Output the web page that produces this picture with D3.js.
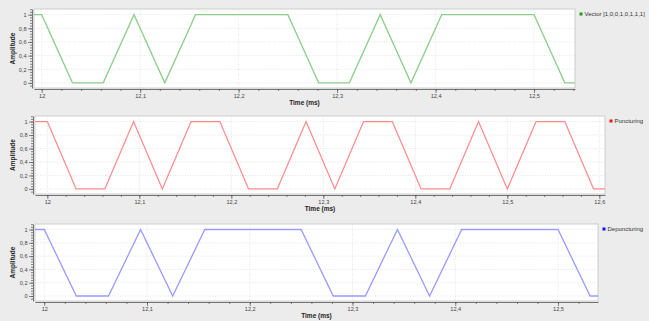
<!DOCTYPE html>
<html lang="en">
<head>
<meta charset="utf-8">
<title>Puncturing / Depuncturing</title>
<script src="https://d3js.org/d3.v7.min.js"></script>
<style>
  html, body { margin: 0; padding: 0; background: #ececec; }
  svg { display: block; font-family: "Liberation Sans", Arial, sans-serif; }
</style>
</head>
<body>
<svg id="chart" width="649" height="321"></svg>
<script>
// sample times (ms), one sample every 1/32 ms
var vectorTimes = [11.96875, 12, 12.03125, 12.0625, 12.09375, 12.125, 12.15625, 12.1875, 12.21875,
  12.25, 12.28125, 12.3125, 12.34375, 12.375, 12.40625, 12.4375, 12.46875, 12.5, 12.53125, 12.5625];
var vectorValues = [1, 1, 0, 0, 1, 0, 1, 1, 1, 1, 0, 0, 1, 0, 1, 1, 1, 1, 0, 0];

var puncTimes = [11.96875, 12, 12.03125, 12.0625, 12.09375, 12.125, 12.15625, 12.1875, 12.21875,
  12.25, 12.28125, 12.3125, 12.34375, 12.375, 12.40625, 12.4375, 12.46875, 12.5, 12.53125, 12.5625,
  12.59375, 12.625];
var puncValues = [1, 1, 0, 0, 1, 0, 1, 1, 0, 0, 1, 0, 1, 1, 0, 0, 1, 0, 1, 1, 0, 0];

var depuncTimes = vectorTimes;
var depuncValues = [1, 1, 0, 0, 1, 0, 1, 1, 1, 1, 0, 0, 1, 0, 1, 1, 1, 1, 0, 0];

var yTicks = [0, 0.2, 0.4, 0.6, 0.8, 1];
var yTickLabels = ["0", "0,2", "0,4", "0,6", "0,8", "1"];
var xTicksShort = [12, 12.1, 12.2, 12.3, 12.4, 12.5];
var xTicksLong = [12, 12.1, 12.2, 12.3, 12.4, 12.5, 12.6];

var legendNames = ["Vector [1,0,0,1,0,1,1,1]", "Puncturing", "Depuncturing"];

// layout of the three Qwt-like plots
var panels = [
  { t: vectorTimes, v: vectorValues, ticks: xTicksShort, name: legendNames[0],
    x0: 34, x1: 575, y0: 9, y1: 88, dom: [11.9922, 12.5416],
    line: "#8ccf8c", mark: "#1f9a1f" },
  { t: puncTimes, v: puncValues, ticks: xTicksLong, name: legendNames[1],
    x0: 35, x1: 605, y0: 116, y1: 194, dom: [11.9866, 12.6062],
    line: "#ff8c8c", mark: "#ff1010" },
  { t: depuncTimes, v: depuncValues, ticks: xTicksShort, name: legendNames[2],
    x0: 35, x1: 598, y0: 224, y1: 301, dom: [11.9910, 12.5389],
    line: "#9a9aff", mark: "#1010ff" }
];

var svg = d3.select("#chart");
var fmt = function(d) { return String(+d.toFixed(2)).replace(".", ","); };

panels.forEach(function(p, i) {
  var x = d3.scaleLinear().domain(p.dom).range([p.x0, p.x1]);
  var y = d3.scaleLinear().domain([-0.075, 1.083]).range([p.y1, p.y0]);
  var g = svg.append("g");

  // canvas
  g.append("rect")
    .attr("x", p.x0).attr("y", p.y0)
    .attr("width", p.x1 - p.x0).attr("height", p.y1 - p.y0)
    .attr("fill", "#fff").attr("stroke", "#c4c4c4").attr("stroke-width", 0.8);

  // grid
  g.selectAll(".gx").data(p.ticks).enter().append("line")
    .attr("x1", function(d) { return x(d); }).attr("x2", function(d) { return x(d); })
    .attr("y1", p.y0).attr("y2", p.y1)
    .attr("stroke", "#d4d4d4").attr("stroke-width", 0.6).attr("stroke-dasharray", "1,1.5");
  g.selectAll(".gy").data(yTicks).enter().append("line")
    .attr("x1", p.x0).attr("x2", p.x1)
    .attr("y1", function(d) { return y(d); }).attr("y2", function(d) { return y(d); })
    .attr("stroke", "#d4d4d4").attr("stroke-width", 0.6).attr("stroke-dasharray", "1,1.5");

  // signal
  var clipId = "clip" + i;
  svg.append("clipPath").attr("id", clipId).append("rect")
    .attr("x", p.x0).attr("y", p.y0).attr("width", p.x1 - p.x0).attr("height", p.y1 - p.y0);
  var pts = p.t.map(function(t, k) { return [t, p.v[k]]; });
  g.append("path")
    .datum(pts)
    .attr("clip-path", "url(#" + clipId + ")")
    .attr("fill", "none").attr("stroke", p.line).attr("stroke-width", 1.3)
    .attr("d", d3.line().x(function(d) { return x(d[0]); }).y(function(d) { return y(d[1]); }));

  // x axis
  var xAxis = d3.axisBottom(x).tickValues(p.ticks).tickFormat(fmt).tickSize(4).tickSizeOuter(0).tickPadding(1.5);
  var xMinor = d3.axisBottom(x).tickValues(d3.range(Math.ceil(p.dom[0] * 50), Math.floor(p.dom[1] * 50) + 1)
      .map(function(k) { return k / 50; })).tickFormat("").tickSize(2).tickSizeOuter(0);
  var ax = g.append("g").attr("transform", "translate(0," + (p.y1 + 1) + ")").call(xMinor);
  ax.select(".domain").attr("stroke", "#555").attr("stroke-width", 0.8);
  ax.selectAll(".tick line").attr("stroke", "#555").attr("stroke-width", 0.7);
  var axM = g.append("g").attr("transform", "translate(0," + (p.y1 + 1) + ")").call(xAxis);
  axM.select(".domain").remove();
  axM.selectAll(".tick line").attr("stroke", "#555").attr("stroke-width", 0.7);
  axM.selectAll(".tick text").attr("font-size", 5.6).attr("fill", "#444")
    .attr("font-family", "Liberation Sans, Arial, sans-serif");

  // y axis
  var yAxis = d3.axisLeft(y).tickValues(yTicks).tickFormat(function(d, k) { return yTickLabels[k]; })
    .tickSize(4).tickSizeOuter(0).tickPadding(1.5);
  var yMinor = d3.axisLeft(y).tickValues(d3.range(-1, 28).map(function(k) { return k * 0.04; }))
    .tickFormat("").tickSize(2).tickSizeOuter(0);
  var ay = g.append("g").attr("transform", "translate(" + (p.x0 - 2) + ",0)").call(yMinor);
  ay.select(".domain").attr("stroke", "#555").attr("stroke-width", 0.8);
  ay.selectAll(".tick line").attr("stroke", "#555").attr("stroke-width", 0.7);
  var ayM = g.append("g").attr("transform", "translate(" + (p.x0 - 2) + ",0)").call(yAxis);
  ayM.select(".domain").remove();
  ayM.selectAll(".tick line").attr("stroke", "#555").attr("stroke-width", 0.7);
  ayM.selectAll(".tick text").attr("font-size", 5.6).attr("fill", "#444")
    .attr("font-family", "Liberation Sans, Arial, sans-serif");

  // axis titles
  g.append("text")
    .attr("x", (p.x0 + p.x1) / 2).attr("y", p.y1 + 17)
    .attr("text-anchor", "middle").attr("font-size", 6.5).attr("font-weight", "bold").attr("fill", "#222")
    .text("Time (ms)");
  g.append("text")
    .attr("transform", "translate(15," + ((p.y0 + p.y1) / 2) + ") rotate(-90)")
    .attr("text-anchor", "middle").attr("font-size", 6.5).attr("font-weight", "bold").attr("fill", "#222")
    .text("Amplitude");

  // legend
  g.append("rect")
    .attr("x", p.x1 + 4.5).attr("y", p.y0 + 3.5).attr("width", 3).attr("height", 3)
    .attr("fill", p.mark);
  g.append("text")
    .attr("x", p.x1 + 9.5).attr("y", p.y0 + 7.2)
    .attr("font-size", 6).attr("fill", "#333")
    .text(p.name);
});
</script>
</body>
</html>
